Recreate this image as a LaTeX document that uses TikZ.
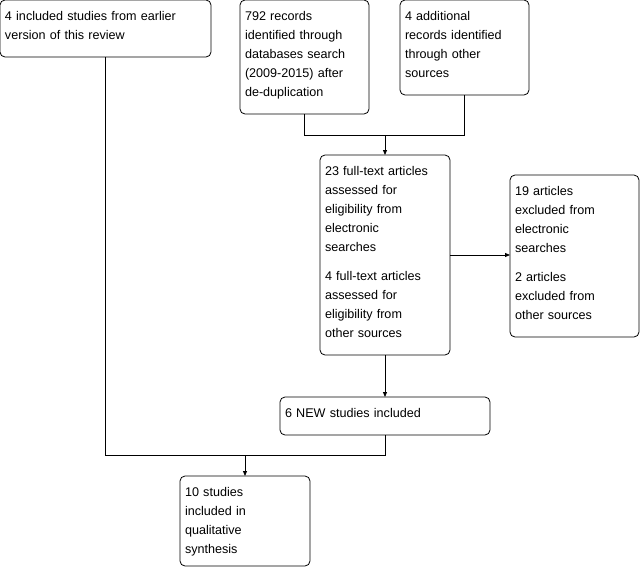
\documentclass[tikz,border=0pt]{standalone}
\usepackage{fontspec}
\setmainfont{Liberation Sans}
\usepackage{tikz}
\usetikzlibrary{arrows.meta,positioning,calc}
\tikzset{
  flowarrow/.style={-{Triangle[length=5pt,width=4pt]}, line width=0.8pt, draw=black},
  flowline/.style={-, line width=0.8pt, draw=black}
}

\begin{document}
\begin{tikzpicture}[
  x=1pt, y=-1pt,
  font=\fontsize{12.6}{19}\selectfont,
  recbox/.style={draw, line width=0.8pt, rounded corners=5pt, anchor=north west,
    align=left, inner xsep=5pt, inner ysep=0pt, outer sep=0pt,
    execute at begin node={\rule{0pt}{20pt}},
    execute at end node={\rule[-#1]{0pt}{0pt}}},
  recbox/.default=18pt
]
\useasboundingbox (0,0) rectangle (641,571);

\node[recbox, text width=201pt] at (0,0) (earlier) {4 included studies from earlier\\version of this review};
\node[recbox, text width=119pt] at (240,0) (dbsearch) {792 records\\identified through\\databases search\\(2009-2015) after\\de-duplication};
\node[recbox, text width=119pt] at (400,0) (othersrc) {4 additional\\records identified\\through other\\sources};
\node[recbox, text width=120pt] at (320,155) (fulltext) {23 full-text articles\\assessed for\\eligibility from\\electronic\\searches\\[10pt]4 full-text articles\\assessed for\\eligibility from\\other sources};
\node[recbox, text width=119pt] at (510,175) (excluded) {19 articles\\excluded from\\electronic\\searches\\[10pt]2 articles\\excluded from\\other sources};
\node[recbox, text width=200pt] at (280,397) (newstudies) {6 NEW studies included};
\node[recbox=13pt, text width=120pt] at (180,476) (synthesis) {10 studies\\included in\\qualitative\\synthesis};

% Records from both searches merge before full-text screening
\coordinate (topjoin) at (385,135);
\draw[flowline] (dbsearch.south) |- (topjoin);
\draw[flowline] (othersrc.south) |- (topjoin);
\draw[flowarrow] (topjoin) -- (fulltext.north);

% Screening: exclusions to the right, inclusions below
\draw[flowarrow] (fulltext.east) -- (fulltext.east -| excluded.west);
\draw[flowarrow] (fulltext.south) -- (newstudies.north);

% Earlier and new studies merge into the synthesis
\coordinate (botjoin) at (245,455);
\draw[flowline] (earlier.south) |- (botjoin);
\draw[flowline] (newstudies.south) |- (botjoin);
\draw[flowarrow] (botjoin) -- (synthesis.north);
\end{tikzpicture}
\end{document}
